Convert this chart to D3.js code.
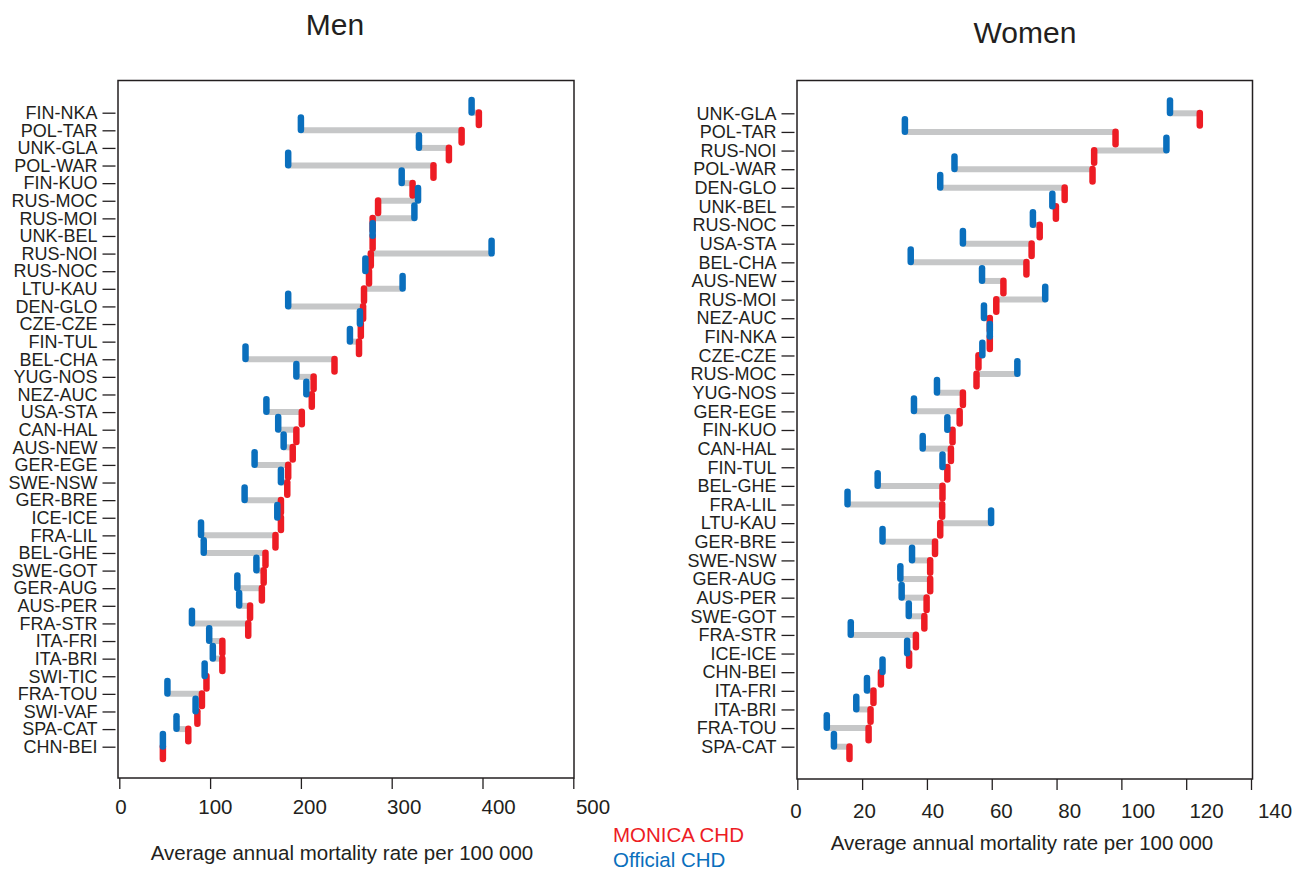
<!DOCTYPE html>
<html>
<head>
<meta charset="utf-8">
<script src="https://cdn.jsdelivr.net/npm/d3@7"></script>
<style>
  body { margin: 0; background: #fff; }
  text { font-family: "Liberation Sans", Arial, Helvetica, sans-serif; fill: #231f20; }
</style>
</head>
<body>
<svg id="chart" width="1305" height="870"></svg>
<script>
// Coronary heart disease mortality, MONICA registers vs official statistics
const menSites = ["FIN-NKA","POL-TAR","UNK-GLA","POL-WAR","FIN-KUO","RUS-MOC","RUS-MOI","UNK-BEL",
  "RUS-NOI","RUS-NOC","LTU-KAU","DEN-GLO","CZE-CZE","FIN-TUL","BEL-CHA","YUG-NOS","NEZ-AUC",
  "USA-STA","CAN-HAL","AUS-NEW","GER-EGE","SWE-NSW","GER-BRE","ICE-ICE","FRA-LIL","BEL-GHE",
  "SWE-GOT","GER-AUG","AUS-PER","FRA-STR","ITA-FRI","ITA-BRI","SWI-TIC","FRA-TOU","SWI-VAF",
  "SPA-CAT","CHN-BEI"];
const menMonica = [396,377,363,346,323,285,279,279,277,275,269.5,268.5,266,264,237,214,212,
  201,195,191,186,185,178,178,172,161,159,157,144,142,113.5,113.5,96,91,86,76,48];
const menOfficial = [388,200,330,186,311,329,325,279,410,271,312,186,265,254,139,195,206,
  162,175,181,149,178,138,174,90,93,151,130,132,80,99,103,94,53,84,63,48];

const womenSites = ["UNK-GLA","POL-TAR","RUS-NOI","POL-WAR","DEN-GLO","UNK-BEL","RUS-NOC",
  "USA-STA","BEL-CHA","AUS-NEW","RUS-MOI","NEZ-AUC","FIN-NKA","CZE-CZE","RUS-MOC","YUG-NOS",
  "GER-EGE","FIN-KUO","CAN-HAL","FIN-TUL","BEL-GHE","FRA-LIL","LTU-KAU","GER-BRE","SWE-NSW",
  "GER-AUG","AUS-PER","SWE-GOT","FRA-STR","ICE-ICE","CHN-BEI","ITA-FRI","ITA-BRI","FRA-TOU",
  "SPA-CAT"];
const womenMonica = [124.2,98.2,91.6,91.1,82.5,79.8,74.8,72.3,70.7,63.6,61.4,59.4,59.4,55.9,
  55.3,51.1,50.1,47.9,47.4,46.3,44.8,44.7,44.1,42.5,41.0,41.0,39.9,39.2,36.6,34.5,25.8,23.5,
  22.6,22.0,16.1];
const womenOfficial = [115.0,33.2,113.9,48.5,44.1,78.7,72.7,51.1,35.0,57.0,76.5,57.6,59.4,57.1,
  67.9,43.1,36.0,46.3,38.7,44.8,24.8,15.5,59.8,26.3,35.4,31.8,32.2,34.4,16.5,33.9,26.3,21.5,
  18.2,9.1,11.3];

const menTicks = [0,100,200,300,400,500];
const womenTicks = [0,20,40,60,80,100,120,140];

const axisTitle = "Average annual mortality rate per 100 000";
const legendItems = [
  { label: "MONICA CHD", color: "#ed1c24" },
  { label: "Official CHD", color: "#0a6fbd" }
];

const COL_MONICA = "#ed1c24";
const COL_OFFICIAL = "#0a6fbd";
const COL_LINK = "#c6c7c8";
const INK = "#231f20";

const svg = d3.select("#chart");

function drawPanel(cfg) {
  const g = svg.append("g");
  const x = d3.scaleLinear().domain(cfg.domain).range(cfg.xRange);
  const xLab = d3.scaleLinear().domain(cfg.domain).range(cfg.labelRange);
  const y = d3.scalePoint().domain(cfg.sites).range(cfg.rowRange);

  const rows = cfg.sites.map((s, i) => ({ site: s, monica: cfg.monica[i], official: cfg.official[i] }));

  // frame
  g.append("rect")
    .attr("x", cfg.box[0]).attr("y", cfg.box[1])
    .attr("width", cfg.box[2] - cfg.box[0]).attr("height", cfg.box[3] - cfg.box[1])
    .attr("fill", "none").attr("stroke", INK).attr("stroke-width", 1.5);

  // connecting bars
  g.selectAll("line.link").data(rows).join("line")
    .attr("class", "link")
    .attr("x1", d => x(d.official)).attr("x2", d => x(d.monica))
    .attr("y1", d => y(d.site)).attr("y2", d => y(d.site))
    .attr("stroke", COL_LINK).attr("stroke-width", 6);

  const mw = 6.5, mh = 19;
  // MONICA markers (below the row line)
  g.selectAll("rect.monica").data(rows).join("rect")
    .attr("class", "monica")
    .attr("x", d => x(d.monica) - mw / 2)
    .attr("y", d => y(d.site) + 6 - mh / 2)
    .attr("width", mw).attr("height", mh)
    .attr("rx", mw / 2).attr("ry", mw / 2)
    .attr("fill", COL_MONICA);

  // official markers (above the row line)
  g.selectAll("rect.official").data(rows).join("rect")
    .attr("class", "official")
    .attr("x", d => x(d.official) - mw / 2)
    .attr("y", d => y(d.site) - 6.5 - mh / 2)
    .attr("width", mw).attr("height", mh)
    .attr("rx", mw / 2).attr("ry", mw / 2)
    .attr("fill", COL_OFFICIAL);

  // category axis
  const ya = g.append("g")
    .attr("transform", `translate(${cfg.box[0] - 2.5},0)`)
    .call(d3.axisLeft(y).tickSize(13).tickPadding(5));
  ya.select(".domain").remove();
  ya.selectAll(".tick line").attr("stroke", INK).attr("stroke-width", 1.3);
  ya.selectAll(".tick text").attr("font-size", 18)
    .attr("font-family", "'Liberation Sans', Arial, sans-serif").attr("fill", INK);

  // value axis ticks
  const xa = g.append("g")
    .attr("transform", `translate(0,${cfg.box[3]})`)
    .call(d3.axisBottom(x).tickValues(cfg.ticks).tickSize(11).tickFormat(""));
  xa.select(".domain").remove();
  xa.selectAll(".tick line").attr("stroke", INK).attr("stroke-width", 1.3);

  // value axis labels
  g.selectAll("text.xlab").data(cfg.ticks).join("text")
    .attr("class", "xlab")
    .attr("x", d => xLab(d)).attr("y", cfg.labelY)
    .attr("text-anchor", "middle").attr("font-size", 20.5)
    .text(d => d);

  // titles
  g.append("text").attr("x", cfg.title[1]).attr("y", cfg.title[2])
    .attr("text-anchor", "middle").attr("font-size", 30).text(cfg.title[0]);
  g.append("text").attr("x", cfg.axisTitlePos[0]).attr("y", cfg.axisTitlePos[1])
    .attr("text-anchor", "middle").attr("font-size", 20.5).text(axisTitle);
}

drawPanel({
  sites: menSites, monica: menMonica, official: menOfficial,
  domain: [0, 500], ticks: menTicks,
  box: [118, 80.5, 574, 778],
  xRange: [119.3, 573.3], labelRange: [121, 593], labelY: 814,
  rowRange: [112.7, 746.7],
  title: ["Men", 335, 35], axisTitlePos: [342, 860]
});

drawPanel({
  sites: womenSites, monica: womenMonica, official: womenOfficial,
  domain: [0, 140], ticks: womenTicks,
  box: [797, 80.5, 1252.5, 779],
  xRange: [797.3, 1251], labelRange: [796, 1275], labelY: 818,
  rowRange: [113.3, 746.7],
  title: ["Women", 1025, 43], axisTitlePos: [1022, 850]
});

// legend
svg.selectAll("text.legend").data(legendItems).join("text")
  .attr("class", "legend")
  .attr("x", 613).attr("y", (d, i) => 842 + i * 25)
  .attr("font-size", 20.5)
  .style("fill", d => d.color)
  .text(d => d.label);
</script>
</body>
</html>
